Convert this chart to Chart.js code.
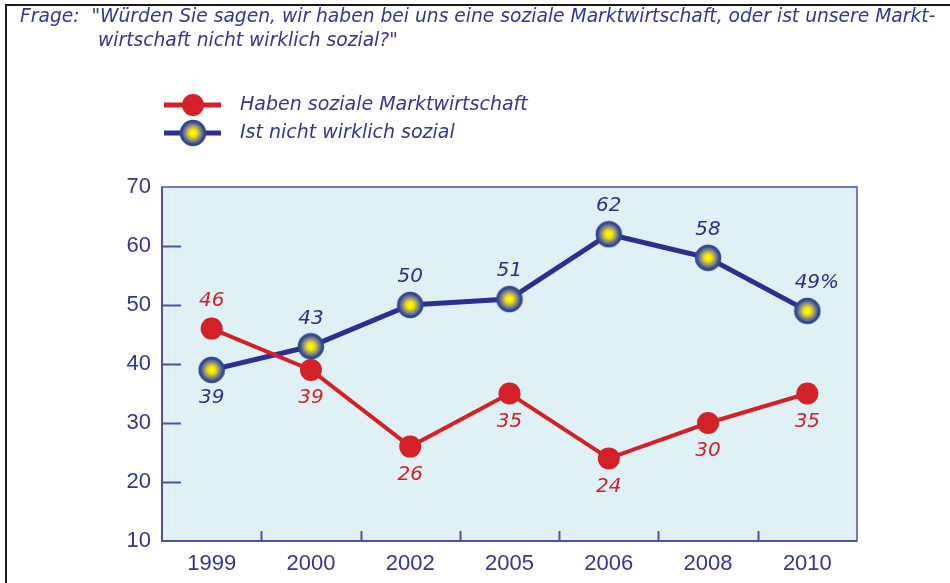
<!DOCTYPE html>
<html>
<head>
<meta charset="utf-8">
<script src="https://cdn.jsdelivr.net/npm/chart.js@4.4.0/dist/chart.umd.min.js"></script>
<style>
  html, body { margin: 0; padding: 0; background: #fff; }
  #wrap { width: 950px; height: 583px; position: relative; }
</style>
</head>
<body>
<div id="wrap"><canvas id="c" width="950" height="583"></canvas></div>
<script>
var years = ['1999', '2000', '2002', '2005', '2006', '2008', '2010'];
var sozial = [46, 39, 26, 35, 24, 30, 35];
var nichtSozial = [39, 43, 50, 51, 62, 58, 49];
var yTicks = [10, 20, 30, 40, 50, 60, 70];

var seriesNames = ['Haben soziale Marktwirtschaft', 'Ist nicht wirklich sozial'];
var titleLine1 = 'Frage:  "Würden Sie sagen, wir haben bei uns eine soziale Marktwirtschaft, oder ist unsere Markt-';
var titleLine2 = 'wirtschaft nicht wirklich sozial?"';

// which side of the point each value label sits on
var sozialSide = [-1, 1, 1, 1, 1, 1, 1];
var nichtSide = [1, -1, -1, -1, -1, -1, -1];

var RED = '#d42027';
var BLUE = '#2e2e8e';
var TEXT = '#34349a';
var AXIS = '#5050a8';
var TXT_FONT = '"DejaVu Sans"';

// yellow/blue glossy marker
function blueDot(r) {
    var s = r * 2 + 4;
    var cv = document.createElement('canvas');
    cv.width = s; cv.height = s;
    var g = cv.getContext('2d');
    var c = s / 2;
    var grad = g.createRadialGradient(c, c, 0, c, c, r);
    grad.addColorStop(0, '#ffff00');
    grad.addColorStop(0.3, '#f2e600');
    grad.addColorStop(0.75, '#6b70a0');
    grad.addColorStop(1, '#2c3f8c');
    g.beginPath();
    g.arc(c, c, r, 0, Math.PI * 2);
    g.fillStyle = grad;
    g.fill();
    g.lineWidth = 2.5;
    g.strokeStyle = '#2f4a8c';
    g.stroke();
    return cv;
}
var dotImg = blueDot(12);

var decor = {
    id: 'decor',
    beforeDraw: function (chart) {
        var ctx = chart.ctx, a = chart.chartArea;
        ctx.save();
        ctx.fillStyle = '#dff1f4';
        ctx.fillRect(a.left, a.top, a.right - a.left, a.bottom - a.top);
        ctx.restore();
    },
    beforeDatasetsDraw: function (chart) {
        var ctx = chart.ctx, a = chart.chartArea;
        var xs = chart.scales.x, ys = chart.scales.y;
        ctx.save();
        ctx.strokeStyle = AXIS;
        ctx.lineWidth = 1.5;
        ctx.strokeRect(a.left, a.top, a.right - a.left, a.bottom - a.top);
        ctx.lineWidth = 2;
        ctx.beginPath();
        ctx.moveTo(a.left, a.top); ctx.lineTo(a.left, a.bottom); ctx.lineTo(a.right, a.bottom);
        ctx.stroke();
        // inward y ticks
        yTicks.forEach(function (v) {
            if (v === yTicks[0] || v === yTicks[yTicks.length - 1]) return;
            var y = Math.round(ys.getPixelForValue(v)) + 0.5;
            ctx.beginPath(); ctx.moveTo(a.left, y); ctx.lineTo(a.left + 19, y); ctx.stroke();
        });
        // x ticks between categories
        for (var i = 0; i < years.length - 1; i++) {
            var x = (xs.getPixelForValue(i) + xs.getPixelForValue(i + 1)) / 2;
            x = Math.round(x) + 0.5;
            ctx.beginPath(); ctx.moveTo(x, a.bottom); ctx.lineTo(x, a.bottom - 10); ctx.stroke();
        }
        ctx.restore();
    },
    afterDraw: function (chart) {
        var ctx = chart.ctx;
        ctx.save();
        // frame
        ctx.strokeStyle = '#1a1a1a';
        ctx.lineWidth = 2;
        ctx.beginPath(); ctx.moveTo(6, 583); ctx.lineTo(6, 5); ctx.lineTo(950, 5); ctx.stroke();

        // title
        ctx.fillStyle = TEXT;
        ctx.font = 'italic 18.7px ' + TXT_FONT;
        ctx.textBaseline = 'middle';
        ctx.textAlign = 'left';
        ctx.fillText(titleLine1, 20, 17);
        ctx.fillText(titleLine2, 98, 41);

        // legend
        var rows = [{ y: 105, color: RED, w: 5 }, { y: 133, color: BLUE, w: 5 }];
        rows.forEach(function (r, i) {
            ctx.strokeStyle = r.color;
            ctx.lineWidth = r.w;
            ctx.beginPath(); ctx.moveTo(164, r.y); ctx.lineTo(221, r.y); ctx.stroke();
            if (i === 0) {
                ctx.fillStyle = RED;
                ctx.beginPath(); ctx.arc(193, r.y, 11, 0, Math.PI * 2); ctx.fill();
            } else {
                ctx.drawImage(dotImg, 193 - dotImg.width / 2, r.y - dotImg.height / 2);
            }
            ctx.fillStyle = TEXT;
            ctx.font = 'italic 19px ' + TXT_FONT;
            ctx.fillText(seriesNames[i], 240, r.y);
        });

        // value labels
        ctx.font = 'italic 20px ' + TXT_FONT;
        ctx.textAlign = 'center';
        var sets = [
            { idx: 0, vals: sozial, side: sozialSide, color: RED, suffix: '' },
            { idx: 1, vals: nichtSozial, side: nichtSide, color: BLUE, suffix: '%' }
        ];
        sets.forEach(function (s) {
            var meta = chart.getDatasetMeta(s.idx);
            meta.data.forEach(function (pt, i) {
                var txt = String(s.vals[i]);
                var y = pt.y + s.side[i] * 28;
                ctx.fillStyle = s.color;
                if (i === s.vals.length - 1 && s.suffix) {
                    var w = ctx.measureText(txt).width;
                    ctx.textAlign = 'left';
                    ctx.fillText(txt + s.suffix, pt.x - w / 2, y);
                    ctx.textAlign = 'center';
                } else {
                    ctx.fillText(txt, pt.x, y);
                }
            });
        });
        ctx.restore();
    }
};

new Chart(document.getElementById('c'), {
    type: 'line',
    data: {
        labels: years,
        datasets: [
            {
                label: seriesNames[0],
                data: sozial,
                borderColor: RED,
                backgroundColor: RED,
                borderWidth: 4,
                pointRadius: 11,
                pointHoverRadius: 11,
                pointBorderWidth: 0,
                tension: 0
            },
            {
                label: seriesNames[1],
                data: nichtSozial,
                borderColor: BLUE,
                backgroundColor: BLUE,
                borderWidth: 5,
                pointStyle: dotImg,
                pointRadius: 12,
                tension: 0
            }
        ]
    },
    options: {
        responsive: false,
        animation: false,
        events: [],
        layout: { padding: { top: 187, right: 93, left: 0, bottom: 0 } },
        plugins: { legend: { display: false }, tooltip: { enabled: false }, title: { display: false } },
        scales: {
            x: {
                offset: true,
                grid: { display: false, drawTicks: false },
                border: { display: false },
                ticks: { color: TEXT, font: { family: 'Liberation Sans', size: 22 }, padding: 10 },
                afterFit: function (s) { s.height = 42; }
            },
            y: {
                min: 10,
                max: 70,
                afterBuildTicks: function (s) { s.ticks = yTicks.map(function (v) { return { value: v }; }); },
                grid: { display: false, drawTicks: false },
                border: { display: false },
                ticks: { color: TEXT, font: { family: 'Liberation Sans', size: 22 }, padding: 11 },
                afterFit: function (s) { s.width = 162; }
            }
        }
    },
    plugins: [decor]
});
</script>
</body>
</html>
